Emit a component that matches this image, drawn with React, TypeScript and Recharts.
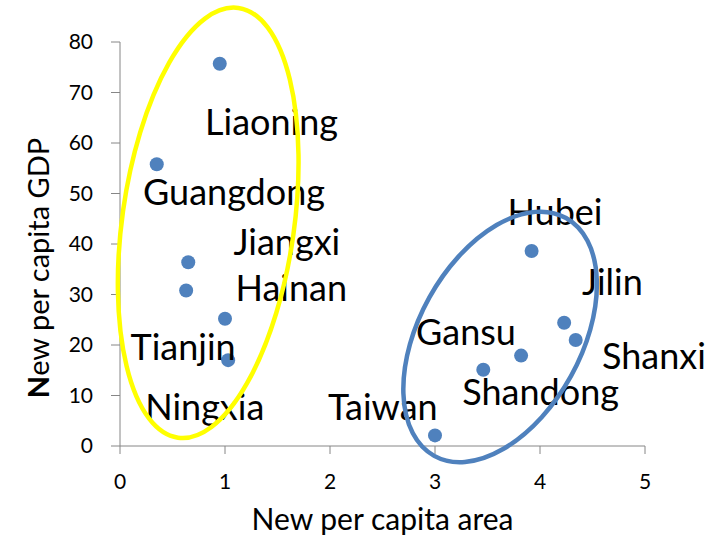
import { ScatterChart, Scatter, XAxis, YAxis, ReferenceDot, Label } from "recharts";

const areaValues = [0.95, 0.35, 0.65, 0.63, 1.0, 1.03, 3.92, 4.23, 4.34, 3.82, 3.46, 3.0];
const gdpValues = [75.7, 55.8, 36.4, 30.8, 25.2, 17.0, 38.6, 24.4, 21.0, 17.9, 15.1, 2.1];

const provinceNames = ["Liaoning", "Guangdong", "Jiangxi", "Hainan", "Tianjin", "Ningxia", "Taiwan", "Hubei", "Jilin", "Gansu", "Shanxi", "Shandong"];
const nameX = [0.81, 0.22, 1.08, 1.1, 0.1, 0.24, 1.98, 3.69, 4.4, 2.82, 4.59, 3.26];
const nameY = [61.6, 47.7, 37.8, 28.7, 17.0, 5.1, 5.1, 43.8, 29.9, 20.0, 15.2, 8.1];

const xTicks = [0, 1, 2, 3, 4, 5];
const yTicks = [0, 10, 20, 30, 40, 50, 60, 70, 80];

// groups circled on the chart: centre in data units, size in px
const groups = [
  { x: 0.84, y: 44.2, rx: 86, ry: 217, angle: 8, color: "#FFFF00" },
  { x: 3.62, y: 21.6, rx: 81, ry: 136, angle: 29, color: "#4F81BD" },
];

const points = areaValues.map((x, i) => ({ x, y: gdpValues[i] }));

const FONT = "Lato, 'Open Sans', sans-serif";
const AXIS = "#868686";

export default function App() {
  return (
    <div style={{ position: "absolute", left: 0, top: 0, background: "#fff" }}>
      <ScatterChart width={725} height={537} margin={{ top: 42, right: 80, bottom: 0, left: 0 }}>
        <XAxis
          type="number"
          dataKey="x"
          domain={[0, 5]}
          ticks={xTicks}
          height={91}
          stroke={AXIS}
          tickSize={8}
          tickMargin={20}
          tick={{ fontFamily: FONT, fontSize: 21, fill: "#000" }}
        >
          <Label
            content={({ viewBox }: any) => (
              <text
                x={viewBox.x + viewBox.width / 2}
                y={530}
                textAnchor="middle"
                fontFamily={FONT}
                fontSize={30}
                fill="#000"
              >
                New per capita area
              </text>
            )}
          />
        </XAxis>
        <YAxis
          type="number"
          dataKey="y"
          domain={[0, 80]}
          ticks={yTicks}
          width={120}
          stroke={AXIS}
          tickSize={9}
          tickMargin={18}
          tick={{ fontFamily: FONT, fontSize: 21, fill: "#000" }}
        >
          <Label
            content={() => (
              <text
                x={37}
                y={268}
                transform="rotate(-90, 37, 268)"
                textAnchor="middle"
                dominantBaseline="central"
                fontFamily={FONT}
                fontSize={29}
                fill="#000"
              >
                <tspan fontWeight="bold">N</tspan>ew per capita GDP
              </text>
            )}
          />
        </YAxis>
        <Scatter
          data={points}
          fill="#4F81BD"
          isAnimationActive={false}
          shape={(p: any) => <circle cx={p.cx} cy={p.cy} r={7} fill="#4F81BD" />}
        />
        {provinceNames.map((name, i) => (
          <ReferenceDot
            key={name}
            x={nameX[i]}
            y={nameY[i]}
            ifOverflow="visible"
            shape={(p: any) => (
              <text x={p.cx} y={p.cy} fontFamily={FONT} fontSize={36} fill="#000">
                {name}
              </text>
            )}
          />
        ))}
        {groups.map((g, i) => (
          <ReferenceDot
            key={i}
            x={g.x}
            y={g.y}
            ifOverflow="visible"
            shape={(p: any) => (
              <ellipse
                cx={p.cx}
                cy={p.cy}
                rx={g.rx}
                ry={g.ry}
                transform={`rotate(${g.angle}, ${p.cx}, ${p.cy})`}
                fill="none"
                stroke={g.color}
                strokeWidth={4.5}
              />
            )}
          />
        ))}
      </ScatterChart>
    </div>
  );
}
